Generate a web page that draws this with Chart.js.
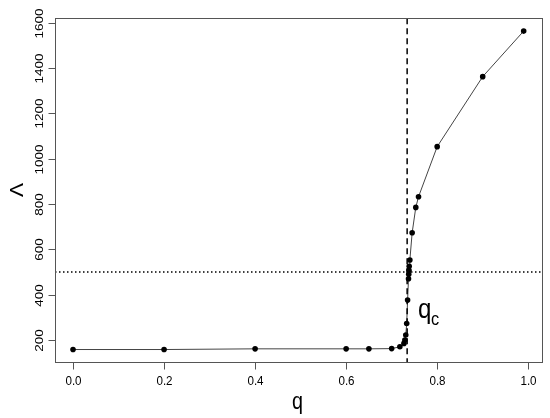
<!DOCTYPE html>
<html>
<head>
<meta charset="utf-8">
<script src="https://cdn.jsdelivr.net/npm/chart.js@4.4.1/dist/chart.umd.min.js"></script>
<style>
  html, body { margin: 0; padding: 0; background: #fff; }
  #wrap { width: 550px; height: 418px; }
</style>
</head>
<body>
<div id="wrap"><canvas id="chart" width="550" height="418"></canvas></div>
<script>
  // data
  const qVals   = [0, 0.2, 0.4, 0.6, 0.65, 0.7, 0.718, 0.727, 0.729, 0.731, 0.733, 0.735, 0.737, 0.7375, 0.738, 0.7385, 0.74, 0.745, 0.753, 0.759, 0.8, 0.9, 0.99];
  const lamVals = [158, 158, 161, 161, 161, 162, 170, 185, 200, 222, 273, 376, 470, 490, 508, 525, 553, 673, 785, 832, 1053, 1362, 1563];
  const xTicks  = [0, 0.2, 0.4, 0.6, 0.8, 1.0];
  const yTicks  = [200, 400, 600, 800, 1000, 1200, 1400, 1600];
  const qc      = 0.734;   // dashed vertical line
  const lamRef  = 500;     // dotted horizontal line

  const ink  = '#000';
  const gray = '#555';
  const sx   = 0.86;       // the reference text is a bit squeezed sideways

  function txt(ctx, s, x, y, font, align, rot) {
      ctx.save();
      ctx.translate(x, y);
      ctx.scale(sx, 1);
      if (rot) ctx.rotate(rot);
      ctx.font = font;
      ctx.textAlign = align;
      ctx.textBaseline = 'alphabetic';
      ctx.fillStyle = ink;
      ctx.fillText(s, 0, 0);
      ctx.restore();
  }

  const rAxes = {
      id: 'rAxes',
      afterDatasetsDraw(chart) {
          const ctx = chart.ctx;
          const a = chart.chartArea;
          const xs = chart.scales.x, ys = chart.scales.y;

          ctx.save();
          // reference lines
          ctx.strokeStyle = ink;
          ctx.lineWidth = 1.5;
          ctx.setLineDash([6, 4]);
          const vx = xs.getPixelForValue(qc);
          ctx.beginPath(); ctx.moveTo(vx, a.top); ctx.lineTo(vx, a.bottom); ctx.stroke();
          ctx.setLineDash([1.5, 2.5]);
          const hy = ys.getPixelForValue(lamRef);
          ctx.beginPath(); ctx.moveTo(a.left, hy); ctx.lineTo(a.right, hy); ctx.stroke();
          ctx.setLineDash([]);

          // box
          ctx.strokeStyle = gray;
          ctx.lineWidth = 1;
          ctx.strokeRect(Math.round(a.left) + 0.5, Math.round(a.top) + 0.5,
                         Math.round(a.right - a.left), Math.round(a.bottom - a.top));

          // ticks
          const by = Math.round(a.bottom) + 0.5;
          xTicks.forEach(v => {
              const px = Math.round(xs.getPixelForValue(v)) + 0.5;
              ctx.beginPath(); ctx.moveTo(px, by); ctx.lineTo(px, by + 7); ctx.stroke();
              txt(ctx, v.toFixed(1), px, 385, '13.5px "Liberation Sans", Arial', 'center');
          });
          const lx = Math.round(a.left) + 0.5;
          yTicks.forEach(v => {
              const py = Math.round(ys.getPixelForValue(v)) + 0.5;
              ctx.beginPath(); ctx.moveTo(lx, py); ctx.lineTo(lx - 7, py); ctx.stroke();
              txt(ctx, String(v), 43.3, py, '13.5px "Liberation Sans", Arial', 'center', -Math.PI / 2);
          });
          ctx.restore();

          // titles
          txt(ctx, 'q', 297.5, 409, '23px "Liberation Sans", Arial', 'center');
          txt(ctx, 'Λ', 23, 190, '21px "Liberation Sans", Arial', 'center', -Math.PI / 2);
          txt(ctx, 'q', 418, 318, '28px "Liberation Sans", Arial', 'left');
          txt(ctx, 'c', 431, 325, '19px "Liberation Sans", Arial', 'left');
      }
  };

  new Chart(document.getElementById('chart'), {
      type: 'line',
      data: {
          datasets: [{
              data: qVals.map((q, i) => ({ x: q, y: lamVals[i] })),
              borderColor: '#444',
              borderWidth: 1,
              pointRadius: 2.8,
              pointBackgroundColor: ink,
              pointBorderWidth: 0,
              tension: 0
          }]
      },
      options: {
          responsive: false,
          animation: false,
          devicePixelRatio: 1,
          layout: { padding: { left: 55, right: 8.3, top: 18.3, bottom: 55.7 } },
          plugins: { legend: { display: false }, tooltip: { enabled: false } },
          scales: {
              x: { type: 'linear', min: -0.0396, max: 1.0296, display: false },
              y: { type: 'linear', min: 101.6, max: 1619.4, display: false }
          }
      },
      plugins: [rAxes]
  });
</script>
</body>
</html>
